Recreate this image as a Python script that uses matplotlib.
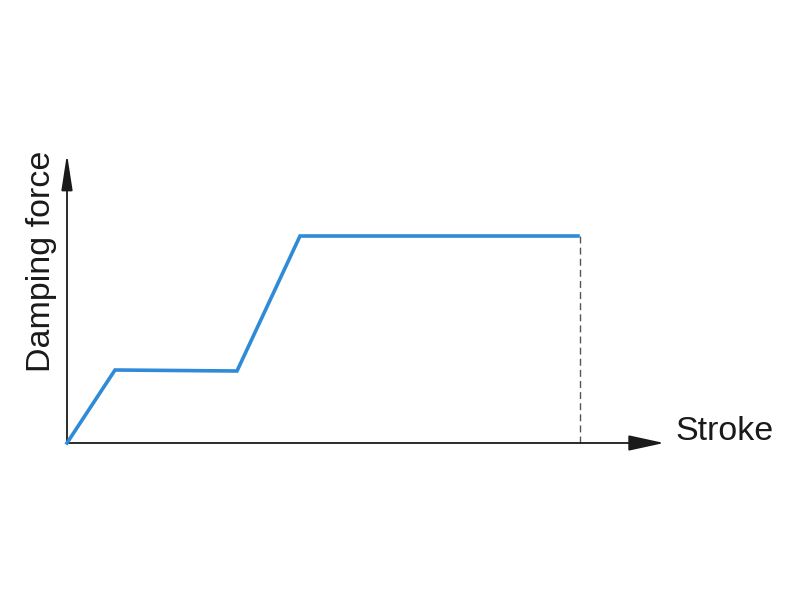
import matplotlib
matplotlib.use("Agg")
import matplotlib.pyplot as plt

# characteristic curve (arbitrary units)
stroke = [0, 48, 170, 233, 511]
force = [0, 73, 72, 207, 207]
stroke_end = 513          # dashed marker at end of stroke
x_max = 597               # arrow tip of stroke axis
y_max = 289               # arrow tip of force axis

plt.rcParams['font.family'] = ['Liberation Sans', 'DejaVu Sans']

fig = plt.figure(figsize=(8, 6), dpi=100)
# axes area placed so that origin sits at (67, 443) px
ax = fig.add_axes([67 / 800, (600 - 443) / 600, x_max / 800, y_max / 600])
ax.set_xlim(0, x_max)
ax.set_ylim(0, y_max)
ax.axis('off')

# axes with arrow heads
ax.annotate('', xy=(x_max, 0), xytext=(0, 0), annotation_clip=False,
            arrowprops=dict(arrowstyle='-|>,head_length=1.1,head_width=0.24',
                            mutation_scale=20, color='#1a1a1a', lw=1.3,
                            shrinkA=0, shrinkB=0))
ax.annotate('', xy=(0, y_max), xytext=(0, 0), annotation_clip=False,
            arrowprops=dict(arrowstyle='-|>,head_length=1.1,head_width=0.17',
                            mutation_scale=20, color='#1a1a1a', lw=1.3,
                            shrinkA=0, shrinkB=0))

ax.plot(stroke, force, color='#2f8ad8', lw=2.6, solid_joinstyle='miter',
        clip_on=False, zorder=3)
ax.plot([stroke_end, stroke_end], [0, force[-1]], color='#555555', lw=1.0,
        ls=(0, (5, 3)), clip_on=False)

ax.text(x_max + 11, 12, 'Stroke', fontsize=24.5, color='#1a1a1a',
        ha='left', va='center')
ax.text(-25, y_max + 3, 'Damping force', fontsize=24.5, color='#1a1a1a',
        rotation=90, ha='center', va='top')

fig.savefig('out.png', dpi=100)
